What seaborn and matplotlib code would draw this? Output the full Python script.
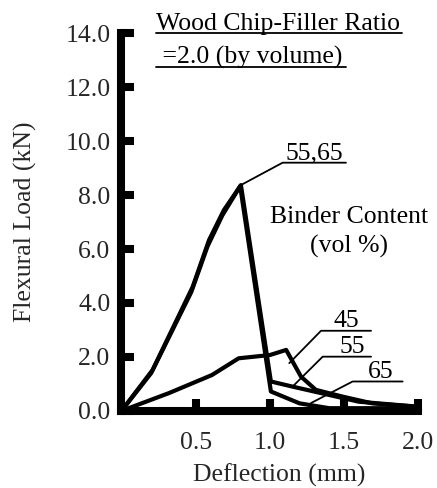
import matplotlib
matplotlib.use("Agg")
import matplotlib.pyplot as plt
import seaborn as sns
import pandas as pd

# ---- data ----
x45 = [0, 0.32, 0.61, 0.79, 1.0, 1.11, 1.21, 1.31, 1.49, 1.69, 1.98]
y45 = [0, 0.66, 1.33, 1.95, 2.07, 2.26, 1.27, 0.78, 0.53, 0.28, 0.16]
x55 = [0, 0.21, 0.48, 0.59, 0.69, 0.805, 1.007, 1.153, 1.40, 1.60, 1.99]
y55 = [0, 1.52, 4.60, 6.33, 7.44, 8.37, 1.09, 0.90, 0.59, 0.34, 0.16]
x65 = [0, 0.20, 0.47, 0.58, 0.68, 0.80, 1.007, 1.20, 1.40, 1.99]
y65 = [0, 1.40, 4.40, 6.10, 7.25, 8.33, 0.72, 0.28, 0.10, 0.10]
series = ["45", "55", "65"]
xticks = [0.5, 1.0, 1.5, 2.0]
yticks = [0, 2, 4, 6, 8, 10, 12, 14]

df = pd.concat([
    pd.DataFrame({"x": x45, "y": y45, "s": "45"}),
    pd.DataFrame({"x": x55, "y": y55, "s": "55"}),
    pd.DataFrame({"x": x65, "y": y65, "s": "65"}),
])

sns.set_style("white")
plt.rcParams["font.family"] = ["Liberation Serif", "DejaVu Serif"]

fig = plt.figure(figsize=(4.37, 4.88), dpi=100)
ax = fig.add_axes([0.278, 0.158, 0.679, 0.774])

sns.lineplot(data=df, x="x", y="y", hue="s", units="s", estimator=None, sort=False,
             palette={"45": "black", "55": "black", "65": "black"},
             linewidth=3.0, legend=False, ax=ax)

FS = 18.5
ax.set_xlim(0, 2.0)
ax.set_ylim(0, 14)
ax.set_xticks(xticks)
ax.set_xticklabels([f"{v:.1f}" for v in xticks])
ax.set_yticks(yticks)
ax.set_yticklabels([f"{v:.1f}" for v in yticks])
ax.tick_params(axis="both", direction="in", length=9, width=5.8, labelsize=FS,
               color="black", bottom=True, left=True)
ax.tick_params(axis="x", pad=15)
ax.tick_params(axis="y", pad=8)
for s in ["top", "right"]:
    ax.spines[s].set_visible(False)
for s in ["left", "bottom"]:
    ax.spines[s].set_linewidth(5.8)
    ax.spines[s].set_color("black")
    ax.spines[s].set_capstyle("projecting")

ax.set_xlabel("Deflection (mm)", fontsize=FS)
ax.xaxis.set_label_coords(0.53, -0.14)
ax.set_ylabel("Flexural Load (kN)", fontsize=FS)
ax.yaxis.set_label_coords(-0.285, 0.5)

kw = dict(fontsize=FS, color="black", clip_on=False)
# title
ax.text(0.234, 14.11, "Wood Chip-Filler Ratio", ha="left", va="baseline", **kw)
ax.plot([0.234, 1.893], [14.0, 14.0], color="black", lw=1.3, clip_on=False)
ax.text(0.234, 12.87, " =2.0 (by volume)", ha="left", va="baseline", **kw)
ax.plot([0.234, 1.516], [12.74, 12.74], color="black", lw=1.3, clip_on=False)

# 55,65
ax.text(1.30, 9.33, "55,65", ha="center", va="baseline", **kw)
ax.plot([0.805, 1.086, 1.513], [8.37, 9.2, 9.2], color="black", lw=1.3)
# binder content
ax.text(1.536, 6.95, "Binder Content", ha="center", va="baseline", **kw)
ax.text(1.536, 5.85, "(vol %)", ha="center", va="baseline", **kw)
# 45
ax.text(1.513, 3.1, "45", ha="center", va="baseline", **kw)
ax.plot([1.131, 1.345, 1.682], [1.77, 2.97, 2.97], color="black", lw=1.3)
# 55
ax.text(1.556, 2.14, "55", ha="center", va="baseline", **kw)
ax.plot([1.153, 1.356, 1.682], [0.9, 2.01, 2.01], color="black", lw=1.3)
# 65
ax.text(1.75, 1.22, "65", ha="center", va="baseline", **kw)
ax.plot([1.277, 1.558, 1.895], [0.29, 1.09, 1.09], color="black", lw=1.3)

fig.savefig("out.png", dpi=100)
